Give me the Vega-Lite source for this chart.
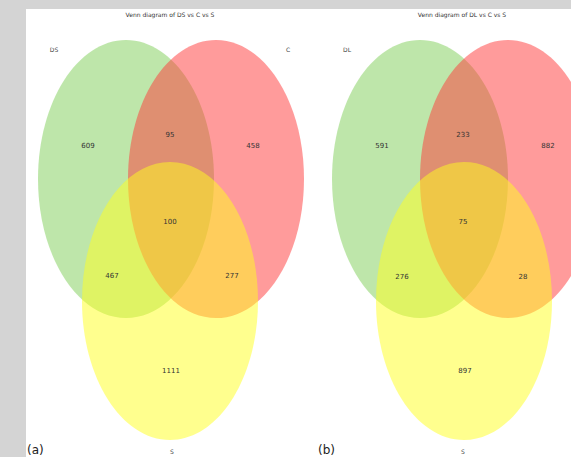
{
  "$schema": "https://vega.github.io/schema/vega-lite/v6.json",
  "width": 571,
  "height": 457,
  "autosize": {"type": "fit", "contains": "padding"},
  "padding": {"left": 26, "top": 9, "right": 0, "bottom": 0},
  "background": "#d4d4d4",
  "config": {"view": {"fill": "white", "stroke": null}},
  "datasets": {
    "sets": [
      {"panel": "a", "set": "DS", "x": 126, "y": 179},
      {"panel": "a", "set": "C", "x": 216, "y": 179},
      {"panel": "a", "set": "S", "x": 170, "y": 301},
      {"panel": "b", "set": "DL", "x": 420, "y": 179},
      {"panel": "b", "set": "C", "x": 508, "y": 179},
      {"panel": "b", "set": "S", "x": 464, "y": 301}
    ],
    "counts": [
      {"panel": "a", "region": "DS only", "x": 88, "y": 146, "n": "609"},
      {"panel": "a", "region": "DS & C", "x": 170, "y": 135, "n": "95"},
      {"panel": "a", "region": "C only", "x": 253, "y": 146, "n": "458"},
      {"panel": "a", "region": "all", "x": 170, "y": 222, "n": "100"},
      {"panel": "a", "region": "DS & S", "x": 112, "y": 276, "n": "467"},
      {"panel": "a", "region": "C & S", "x": 232, "y": 276, "n": "277"},
      {"panel": "a", "region": "S only", "x": 171, "y": 371, "n": "1111"},
      {"panel": "b", "region": "DL only", "x": 382, "y": 146, "n": "591"},
      {"panel": "b", "region": "DL & C", "x": 463, "y": 135, "n": "233"},
      {"panel": "b", "region": "C only", "x": 548, "y": 146, "n": "882"},
      {"panel": "b", "region": "all", "x": 463, "y": 222, "n": "75"},
      {"panel": "b", "region": "DL & S", "x": 402, "y": 277, "n": "276"},
      {"panel": "b", "region": "C & S", "x": 523, "y": 277, "n": "28"},
      {"panel": "b", "region": "S only", "x": 465, "y": 371, "n": "897"}
    ],
    "setLabels": [
      {"x": 54, "y": 50, "label": "DS"},
      {"x": 288, "y": 50, "label": "C"},
      {"x": 172, "y": 452, "label": "S"},
      {"x": 347, "y": 50, "label": "DL"},
      {"x": 463, "y": 452, "label": "S"}
    ],
    "titles": [
      {"x": 170, "y": 15, "label": "Venn diagram of DS vs C vs S"},
      {"x": 462, "y": 15, "label": "Venn diagram of DL vs C vs S"}
    ],
    "panels": [
      {"x": 27, "y": 450, "label": "(a)"},
      {"x": 318, "y": 450, "label": "(b)"}
    ]
  },
  "encoding": {
    "x": {"field": "x", "type": "quantitative", "scale": {"domain": [26, 571], "nice": false, "zero": false}, "axis": null},
    "y": {"field": "y", "type": "quantitative", "scale": {"domain": [9, 457], "nice": false, "zero": false, "reverse": true}, "axis": null}
  },
  "layer": [
    {
      "data": {"name": "sets"},
      "transform": [{"filter": "datum.set === 'DS' || datum.set === 'DL'"}],
      "mark": {"type": "point", "clip": true, "filled": true, "shape": "M-1,0A1,1.58,0,1,0,1,0A1,1.58,0,1,0,-1,0Z", "size": 30976, "color": "#7dcd55", "opacity": 0.5, "strokeWidth": 0}
    },
    {
      "data": {"name": "sets"},
      "transform": [{"filter": "datum.set === 'C'"}],
      "mark": {"type": "point", "clip": true, "filled": true, "shape": "M-1,0A1,1.58,0,1,0,1,0A1,1.58,0,1,0,-1,0Z", "size": 30976, "color": "#ff3737", "opacity": 0.5, "strokeWidth": 0}
    },
    {
      "data": {"name": "sets"},
      "transform": [{"filter": "datum.set === 'S'"}],
      "mark": {"type": "point", "clip": true, "filled": true, "shape": "M-1,0A1,1.58,0,1,0,1,0A1,1.58,0,1,0,-1,0Z", "size": 30976, "color": "#ffff1e", "opacity": 0.5, "strokeWidth": 0}
    },
    {
      "data": {"name": "counts"},
      "mark": {"type": "text", "font": "DejaVu Sans", "fontSize": 7, "color": "#333333"},
      "encoding": {"text": {"field": "n"}}
    },
    {
      "data": {"name": "setLabels"},
      "mark": {"type": "text", "font": "DejaVu Sans", "fontSize": 6, "color": "#444444"},
      "encoding": {"text": {"field": "label"}}
    },
    {
      "data": {"name": "titles"},
      "mark": {"type": "text", "font": "DejaVu Sans", "fontSize": 6, "color": "#333333"},
      "encoding": {"text": {"field": "label"}}
    },
    {
      "data": {"name": "panels"},
      "mark": {"type": "text", "font": "DejaVu Sans", "fontSize": 12, "align": "left", "color": "#222222"},
      "encoding": {"text": {"field": "label"}}
    }
  ]
}
